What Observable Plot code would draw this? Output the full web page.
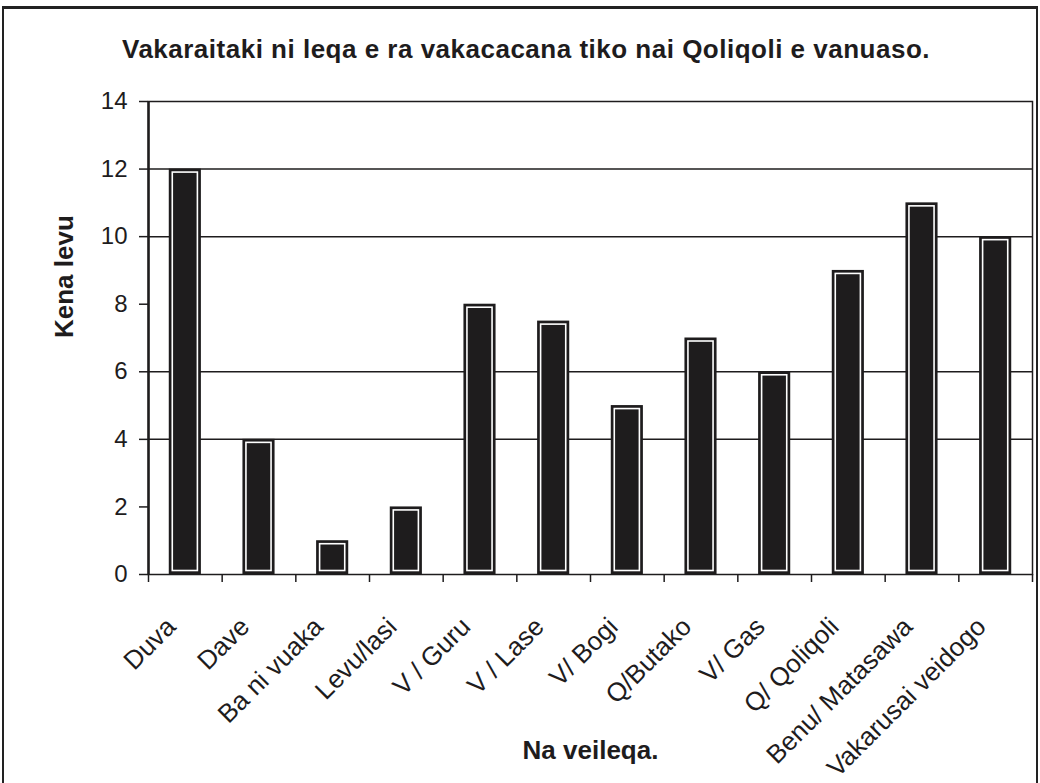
<!DOCTYPE html>
<html>
<head>
<meta charset="utf-8">
<script src="https://cdn.jsdelivr.net/npm/d3@7"></script>
<script src="https://cdn.jsdelivr.net/npm/@observablehq/plot@0.6"></script>
<style>
  html, body { margin: 0; padding: 0; background: #fff; }
  #wrap { position: relative; width: 1040px; height: 783px; overflow: hidden; font-family: "Liberation Sans", Arial, sans-serif; color: #1e1c1d; }
  #border { position: absolute; left: 2px; top: 6px; width: 1032px; height: 800px; border-top: 3px solid #222; border-left: 2px solid #222; border-right: 2px solid #222; }
  #title { position: absolute; left: 0; top: 34px; width: 1052px; text-align: center; font-size: 26px; font-weight: bold; letter-spacing: 0.5px; }
  #chart { position: absolute; left: 0; top: 0; }
</style>
</head>
<body>
<div id="wrap">
  <div id="border"></div>
  <div id="chart"></div>
  <div id="title">Vakaraitaki ni leqa e ra vakacacana tiko nai Qoliqoli e vanuaso.</div>
</div>
<script>
const categories = ["Duva", "Dave", "Ba ni vuaka", "Levu/lasi", "V / Guru", "V / Lase", "V/ Bogi", "Q/Butako", "V/ Gas", "Q/ Qoliqoli", "Benu/ Matasawa", "Vakarusai veidogo"];
const values = [12, 4, 1, 2, 8, 7.5, 5, 7, 6, 9, 11, 10];
const yTicks = [0, 2, 4, 6, 8, 10, 12, 14];
const gridLines = [4, 6, 10, 12];
const yLabel = "Kena levu";
const xLabel = "Na veileqa.";

const data = categories.map((c, i) => ({c, v: values[i], i}));
const half = 0.218;
const dark = "#1e1c1d";

const chart = Plot.plot({
  width: 1040,
  height: 783,
  marginLeft: 148,
  marginRight: 8,
  marginTop: 101,
  marginBottom: 209,
  x: {type: "linear", domain: [0, categories.length], axis: null},
  y: {domain: [0, 14], axis: null},
  style: {fontFamily: "'Liberation Sans', Arial, sans-serif", color: dark, background: "transparent"},
  marks: [
    Plot.ruleY(gridLines, {stroke: dark, strokeWidth: 1.5}),
    Plot.rectY(data, {x1: d => d.i + 0.5 - half, x2: d => d.i + 0.5 + half, y1: 0, y2: "v", fill: dark}),
    Plot.rectY(data, {x1: d => d.i + 0.5 - half, x2: d => d.i + 0.5 + half, y1: 0, y2: "v", inset: 3.5, fill: "none", stroke: "white", strokeWidth: 1.6}),
    Plot.frame({stroke: dark, strokeWidth: 1.5}),
    Plot.axisY({ticks: yTicks, tickSize: 9, tickPadding: 12, fontSize: 24, tickFormat: d => String(d), strokeWidth: 1.5, label: null}),
    Plot.axisX({ticks: d3.range(categories.length + 1), tickSize: 8, tickFormat: () => "", strokeWidth: 1.5, label: null}),
    Plot.ruleX([0], {y1: 0, y2: 14, stroke: dark, strokeWidth: 2.5}),
    Plot.text(data, {x: d => d.i + 0.5, y: () => 0, text: "c", rotate: -45, textAnchor: "end", dy: 48, dx: -14, fontSize: 26, fill: dark}),
    Plot.text([yLabel], {frameAnchor: "left", dx: -84, rotate: -90, fontSize: 26, fontWeight: "bold", fill: dark}),
    Plot.text([xLabel], {frameAnchor: "bottom", dy: 184, fontSize: 26, fontWeight: "bold", fill: dark})
  ]
});
document.getElementById("chart").appendChild(chart);
</script>
</body>
</html>
